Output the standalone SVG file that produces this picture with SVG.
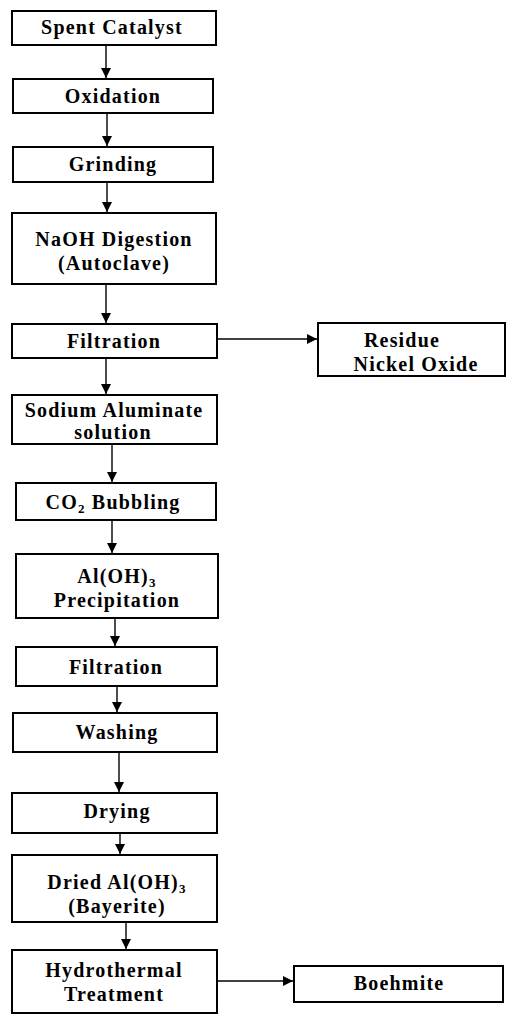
<svg xmlns="http://www.w3.org/2000/svg" width="506" height="1015" viewBox="0 0 506 1015">
<defs>
<style>
.box{fill:#fff;stroke:#000;stroke-width:2}
.t{font-family:"Liberation Serif","Times New Roman",serif;font-size:20px;font-weight:bold;letter-spacing:1.2px;fill:#000;text-anchor:middle}
.sub{font-size:13px}
.c{stroke:#000;stroke-width:1.4;fill:none;marker-end:url(#ah)}
</style>
<marker id="ah" markerUnits="userSpaceOnUse" markerWidth="10" markerHeight="10" refX="10" refY="5" orient="auto" viewBox="0 0 10 10">
<path d="M0,0 L10,5 L0,10 z" fill="#000"/>
</marker>
</defs>
<rect width="506" height="1015" fill="#fff"/>
<g id="connectors">
<line class="c" x1="106" y1="45" x2="106" y2="78"/>
<line class="c" x1="107" y1="113" x2="107" y2="146"/>
<line class="c" x1="107" y1="182" x2="107" y2="212"/>
<line class="c" x1="106" y1="284" x2="106" y2="323"/>
<line class="c" x1="106" y1="358" x2="106" y2="394"/>
<line class="c" x1="112" y1="444" x2="112" y2="482"/>
<line class="c" x1="112" y1="520" x2="112" y2="553"/>
<line class="c" x1="115" y1="618" x2="115" y2="646"/>
<line class="c" x1="117" y1="686" x2="117" y2="712"/>
<line class="c" x1="119" y1="752" x2="119" y2="792"/>
<line class="c" x1="120" y1="833" x2="120" y2="854"/>
<line class="c" x1="126" y1="922" x2="126" y2="949"/>
<line class="c" x1="217" y1="339" x2="317" y2="339"/>
<line class="c" x1="217" y1="981" x2="293" y2="981"/>
</g>
<g id="n1"><rect class="box" x="12" y="11" width="204" height="34"/><text class="t" x="112" y="34">Spent Catalyst</text></g>
<g id="n2"><rect class="box" x="13" y="79" width="200" height="34"/><text class="t" x="113" y="103">Oxidation</text></g>
<g id="n3"><rect class="box" x="13" y="147" width="200" height="35"/><text class="t" x="113" y="171">Grinding</text></g>
<g id="n4"><rect class="box" x="12" y="213" width="204" height="71"/><text class="t" x="114" y="246">NaOH Digestion</text><text class="t" x="114" y="270">(Autoclave)</text></g>
<g id="n5"><rect class="box" x="12" y="324" width="205" height="34"/><text class="t" x="114" y="348">Filtration</text></g>
<g id="n6"><rect class="box" x="318" y="323" width="187" height="53"/><text class="t" x="402" y="347">Residue</text><text class="t" x="416" y="371">Nickel Oxide</text></g>
<g id="n7"><rect class="box" x="12" y="395" width="205" height="49"/><text class="t" x="114" y="417">Sodium Aluminate</text><text class="t" x="113" y="439">solution</text></g>
<g id="n8"><rect class="box" x="16" y="483" width="200" height="37"/><text class="t" x="113" y="509">CO<tspan class="sub" dy="4">2</tspan><tspan dy="-4"> Bubbling</tspan></text></g>
<g id="n9"><rect class="box" x="16" y="554" width="202" height="64"/><text class="t" x="117" y="583">Al(OH)<tspan class="sub" dy="4">3</tspan></text><text class="t" x="117" y="607">Precipitation</text></g>
<g id="n10"><rect class="box" x="16" y="647" width="201" height="39"/><text class="t" x="116" y="674">Filtration</text></g>
<g id="n11"><rect class="box" x="13" y="713" width="204" height="39"/><text class="t" x="117" y="739">Washing</text></g>
<g id="n12"><rect class="box" x="12" y="793" width="205" height="40"/><text class="t" x="117" y="818">Drying</text></g>
<g id="n13"><rect class="box" x="12" y="855" width="205" height="67"/><text class="t" x="117" y="889">Dried Al(OH)<tspan class="sub" dy="4">3</tspan></text><text class="t" x="117" y="913">(Bayerite)</text></g>
<g id="n14"><rect class="box" x="12" y="950" width="205" height="63"/><text class="t" x="114" y="977">Hydrothermal</text><text class="t" x="114" y="1001">Treatment</text></g>
<g id="n15"><rect class="box" x="294" y="966" width="209" height="36"/><text class="t" x="399" y="990">Boehmite</text></g>
</svg>
